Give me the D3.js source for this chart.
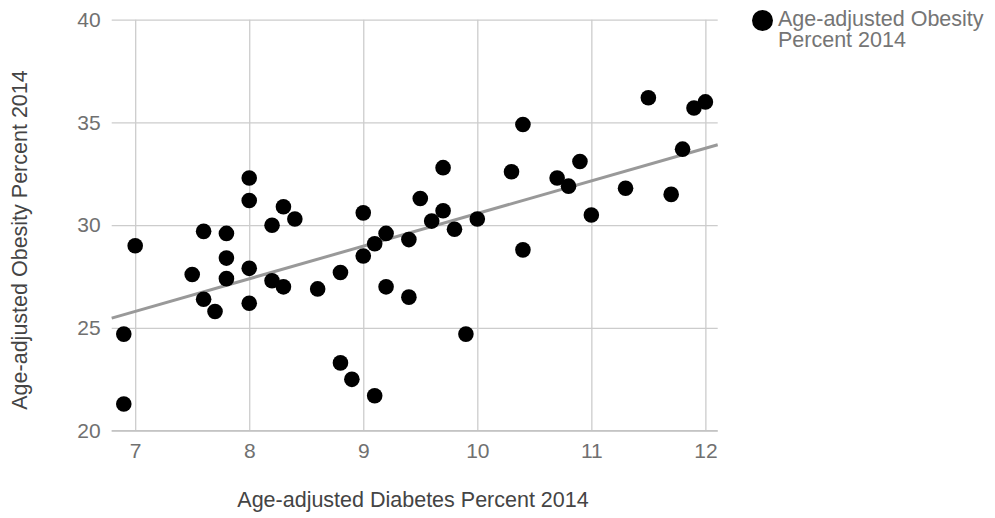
<!DOCTYPE html>
<html>
<head>
<meta charset="utf-8">
<script src="https://cdn.jsdelivr.net/npm/d3@7"></script>
<style>
  html, body { margin: 0; padding: 0; background: #fff; }
  svg { display: block; font-family: "Liberation Sans", Arial, Helvetica, sans-serif; }
</style>
</head>
<body>
<svg id="chart" width="995" height="518"></svg>
<script>
// Data: Age-adjusted Diabetes Percent 2014 (x) vs Age-adjusted Obesity Percent 2014 (y)
const diabetes = [6.9, 6.9, 7.0, 7.5, 7.6, 7.6, 7.7, 7.8, 7.8, 7.8, 8.0, 8.0, 8.0, 8.0, 8.2, 8.2, 8.3, 8.3, 8.4, 8.6,
                  8.8, 8.8, 8.9, 9.0, 9.0, 9.1, 9.1, 9.2, 9.2, 9.4, 9.4, 9.5, 9.6, 9.7, 9.7, 9.8, 9.9, 10.0, 10.3, 10.4,
                  10.4, 10.7, 10.8, 10.9, 11.0, 11.3, 11.5, 11.7, 11.8, 11.9, 12.0];
const obesity  = [24.7, 21.3, 29.0, 27.6, 29.7, 26.4, 25.8, 29.6, 28.4, 27.4, 32.3, 31.2, 27.9, 26.2, 30.0, 27.3, 30.9, 27.0, 30.3, 26.9,
                  27.7, 23.3, 22.5, 30.6, 28.5, 29.1, 21.7, 29.6, 27.0, 29.3, 26.5, 31.3, 30.2, 32.8, 30.7, 29.8, 24.7, 30.3, 32.6, 34.9,
                  28.8, 32.3, 31.9, 33.1, 30.5, 31.8, 36.2, 31.5, 33.7, 35.7, 36.0];
const xTicks = [7, 8, 9, 10, 11, 12];
const yTicks = [20, 25, 30, 35, 40];
const xDomain = [6.794, 12.108];
const yDomain = [20, 40];
const xTitle = "Age-adjusted Diabetes Percent 2014";
const yTitle = "Age-adjusted Obesity Percent 2014";
const legendLines = ["Age-adjusted Obesity", "Percent 2014"];

const svg = d3.select("#chart");
const plot = { left: 111.7, right: 717.7, top: 19.7, bottom: 430.7 };

const x = d3.scaleLinear().domain(xDomain).range([plot.left, plot.right]);
const y = d3.scaleLinear().domain(yDomain).range([plot.bottom, plot.top]);

const gridColor = "#cccccc";
const labelColor = "#707070";
const font = "Liberation Sans, Arial, sans-serif";

// vertical gridlines
const xAxis = d3.axisBottom(x).tickValues(xTicks).tickSize(-(plot.bottom - plot.top)).tickSizeOuter(0).tickPadding(12).tickFormat(d3.format("d"));
const gx = svg.append("g").attr("transform", `translate(0,${plot.bottom})`).call(xAxis);
gx.select(".domain").remove();
gx.selectAll(".tick line").attr("stroke", gridColor).attr("stroke-width", 1.3);
gx.selectAll(".tick text").attr("fill", labelColor).attr("font-size", 21).attr("dy", "0.71em")
  .attr("font-family", font);

// horizontal gridlines
const yAxis = d3.axisLeft(y).tickValues(yTicks).tickSize(-(plot.right - plot.left)).tickSizeOuter(0).tickPadding(11).tickFormat(d3.format("d"));
const gy = svg.append("g").attr("transform", `translate(${plot.left},0)`).call(yAxis);
gy.select(".domain").remove();
gy.selectAll(".tick line").attr("stroke", gridColor).attr("stroke-width", 1.3);
gy.selectAll(".tick text").attr("fill", labelColor).attr("font-size", 21)
  .attr("font-family", font);

// bottom baseline slightly darker
svg.append("line").attr("x1", plot.left).attr("x2", plot.right)
  .attr("y1", y(yDomain[0])).attr("y2", y(yDomain[0]))
  .attr("stroke", "#c4c4c4").attr("stroke-width", 1.5);

// linear trendline (least squares)
const n = diabetes.length;
const mx = d3.mean(diabetes), my = d3.mean(obesity);
let sxy = 0, sxx = 0;
for (let i = 0; i < n; i++) { sxy += (diabetes[i] - mx) * (obesity[i] - my); sxx += (diabetes[i] - mx) ** 2; }
const slope = sxy / sxx, intercept = my - slope * mx;
svg.append("line")
  .attr("x1", x(xDomain[0])).attr("y1", y(intercept + slope * xDomain[0]))
  .attr("x2", x(xDomain[1])).attr("y2", y(intercept + slope * xDomain[1]))
  .attr("stroke", "#999999").attr("stroke-width", 3);

// points
svg.append("g").selectAll("circle")
  .data(diabetes.map((d, i) => [d, obesity[i]]))
  .join("circle")
  .attr("cx", d => x(d[0]))
  .attr("cy", d => y(d[1]))
  .attr("r", 7.8)
  .attr("fill", "#000");

// axis titles
svg.append("text").attr("x", 413).attr("y", 501)
  .attr("text-anchor", "middle").attr("dominant-baseline", "middle")
  .attr("font-size", 21.5).attr("fill", "#444").text(xTitle);
svg.append("text")
  .attr("transform", "translate(21,240) rotate(-90)")
  .attr("text-anchor", "middle").attr("dominant-baseline", "middle")
  .attr("font-size", 21.5).attr("fill", "#444").text(yTitle);

// legend
const lg = svg.append("g");
lg.append("circle").attr("cx", 762.5).attr("cy", 20.5).attr("r", 10.5).attr("fill", "#000");
lg.selectAll("text").data(legendLines).join("text")
  .attr("x", 778).attr("y", (d, i) => 20.5 + i * 21)
  .attr("dominant-baseline", "middle")
  .attr("font-size", 21.5).attr("fill", "#757575").text(d => d);
</script>
</body>
</html>
